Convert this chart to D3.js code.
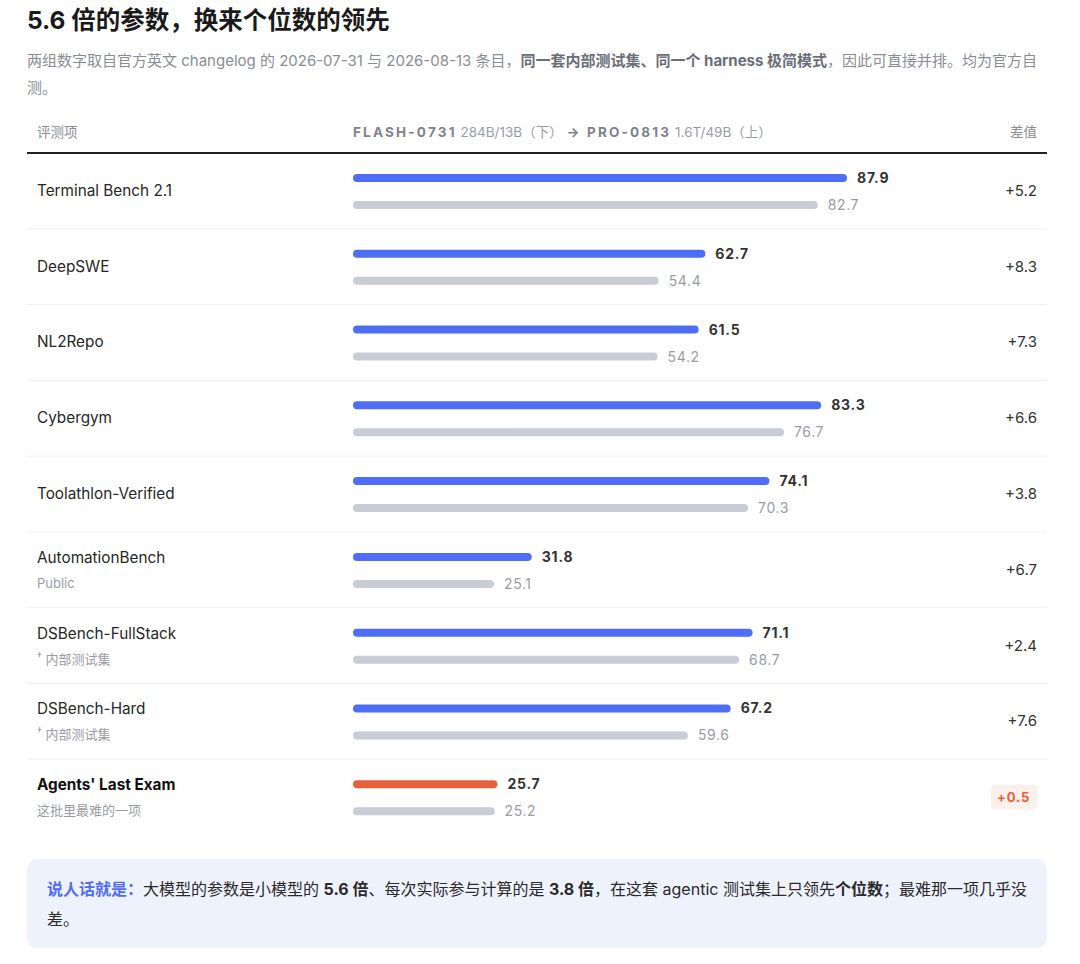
<!DOCTYPE html>
<html>
<head>
<meta charset="utf-8">
<script src="https://cdn.jsdelivr.net/npm/d3@7"></script>
<style>
  body { margin: 0; background: #fff; }
  svg text { font-family: Inter, "Noto Sans CJK SC", sans-serif; }
</style>
</head>
<body>
<svg id="chart" width="1080" height="964"></svg>
<script>
// data
var benchmarks = ["Terminal Bench 2.1", "DeepSWE", "NL2Repo", "Cybergym", "Toolathlon-Verified",
  "AutomationBench", "DSBench-FullStack", "DSBench-Hard", "Agents' Last Exam"];
var subLabels = ["", "", "", "", "", "Public", "内部测试集", "内部测试集", "这批里最难的一项"];
var internalSet = [false, false, false, false, false, false, true, true, false];
var proScores = [87.9, 62.7, 61.5, 83.3, 74.1, 31.8, 71.1, 67.2, 25.7];
var flashScores = [82.7, 54.4, 54.2, 76.7, 70.3, 25.1, 68.7, 59.6, 25.2];
var highlightRow = "Agents' Last Exam";

var svg = d3.select("#chart");
var fmtDiff = d3.format("+.1f");

// title + subtitle
svg.append("text").attr("x", 27).attr("y", 29)
  .attr("font-size", 24.5).attr("font-weight", 700).attr("fill", "#1a1a1a")
  .text("5.6 倍的参数，换来个位数的领先");

var sub = svg.append("text").attr("x", 27).attr("y", 66)
  .attr("font-size", 15).attr("fill", "#8a8d96");
sub.append("tspan").text("两组数字取自官方英文 changelog 的 2026-07-31 与 2026-08-13 条目，");
sub.append("tspan").attr("font-weight", 700).attr("fill", "#6b6e78").text("同一套内部测试集、同一个 harness 极简模式");
sub.append("tspan").text("，因此可直接并排。均为官方自");
svg.append("text").attr("x", 27).attr("y", 93)
  .attr("font-size", 15).attr("fill", "#8a8d96").text("测。");

// scales
var x = d3.scaleLinear().domain([0, 100]).range([353, 915]);
var y = d3.scaleBand().domain(benchmarks).range([153, 835]);

// header
var hy = 137;
svg.append("text").attr("x", 37).attr("y", hy).attr("font-size", 13.5)
  .attr("fill", "#8a8d96").text("评测项");
var hd = svg.append("text").attr("x", x(0)).attr("y", hy).attr("font-size", 13.5).attr("fill", "#8a8d96");
hd.append("tspan").attr("font-weight", 700).attr("letter-spacing", 2.2).attr("fill", "#80838d").text("FLASH-0731");
hd.append("tspan").attr("fill", "#9a9da6").text(" 284B/13B（下） ");
hd.append("tspan").attr("font-weight", 700).attr("letter-spacing", 2.2).attr("fill", "#80838d").text("→ PRO-0813");
hd.append("tspan").attr("fill", "#9a9da6").text(" 1.6T/49B（上）");
svg.append("text").attr("x", 1037).attr("y", hy).attr("text-anchor", "end")
  .attr("font-size", 13.5).attr("fill", "#8a8d96").text("差值");

svg.append("line").attr("x1", 27).attr("x2", 1047).attr("y1", 153).attr("y2", 153)
  .attr("stroke", "#222").attr("stroke-width", 2);

// rows
var rows = svg.selectAll("g.row").data(benchmarks).enter().append("g")
  .attr("class", "row")
  .attr("transform", function(d) { return "translate(0," + y(d) + ")"; });

rows.filter(function(d, i) { return i > 0; }).append("line")
  .attr("x1", 27).attr("x2", 1047).attr("y1", 0).attr("y2", 0)
  .attr("stroke", "#eeeff2").attr("stroke-width", 1);

var bw = y.bandwidth();
rows.append("text")
  .attr("x", 37)
  .attr("y", function(d, i) { return subLabels[i] ? bw / 2 - 7 : bw / 2 + 5; })
  .attr("font-size", 15.3)
  .attr("font-weight", function(d) { return d === highlightRow ? 700 : 400; })
  .attr("fill", function(d) { return d === highlightRow ? "#111" : "#262626"; })
  .text(function(d) { return d; });

var subT = rows.filter(function(d, i) { return subLabels[i]; }).append("text")
  .attr("x", 37).attr("y", bw / 2 + 18)
  .attr("font-size", 13).attr("fill", "#9a9ca3");
subT.each(function(d) {
  var i = benchmarks.indexOf(d), t = d3.select(this);
  if (internalSet[i]) t.append("tspan").attr("font-size", 10).attr("dy", -4).text("†");
  t.append("tspan").attr("dy", internalSet[i] ? 4 : 0).text((internalSet[i] ? " " : "") + subLabels[i]);
});

var barH = 8;
// pro bars (top)
rows.append("rect")
  .attr("x", x(0)).attr("y", 25 - barH / 2)
  .attr("width", function(d, i) { return x(proScores[i]) - x(0); })
  .attr("height", barH).attr("rx", barH / 2)
  .attr("fill", function(d) { return d === highlightRow ? "#e8613a" : "#4f6ef7"; });
rows.append("text")
  .attr("x", function(d, i) { return x(proScores[i]) + 10; }).attr("y", 25 + 5)
  .attr("font-size", 14).attr("font-weight", 700).attr("letter-spacing", 0.8)
  .attr("fill", "#333").text(function(d, i) { return proScores[i].toFixed(1); });

// flash bars (bottom)
rows.append("rect")
  .attr("x", x(0)).attr("y", 52 - barH / 2)
  .attr("width", function(d, i) { return x(flashScores[i]) - x(0); })
  .attr("height", barH).attr("rx", barH / 2)
  .attr("fill", "#c9ccd6");
rows.append("text")
  .attr("x", function(d, i) { return x(flashScores[i]) + 10; }).attr("y", 52 + 5)
  .attr("font-size", 14).attr("letter-spacing", 0.6)
  .attr("fill", "#9a9ca3").text(function(d, i) { return flashScores[i].toFixed(1); });

// diff column
rows.filter(function(d) { return d === highlightRow; }).append("rect")
  .attr("x", 991).attr("y", bw / 2 - 12).attr("width", 46).attr("height", 24)
  .attr("rx", 4).attr("fill", "#fdefe9");
rows.append("text")
  .attr("x", function(d) { return d === highlightRow ? 1030 : 1037; })
  .attr("y", bw / 2 + 5)
  .attr("text-anchor", "end")
  .attr("font-size", function(d) { return d === highlightRow ? 13 : 15; })
  .attr("font-weight", function(d) { return d === highlightRow ? 700 : 400; })
  .attr("letter-spacing", function(d) { return d === highlightRow ? 0.8 : 0; })
  .attr("fill", function(d) { return d === highlightRow ? "#e8613a" : "#333"; })
  .text(function(d, i) { return fmtDiff(proScores[i] - flashScores[i]); });

// callout
svg.append("rect").attr("x", 27).attr("y", 859).attr("width", 1020).attr("height", 89)
  .attr("rx", 10).attr("fill", "#eef2fd");
var c1 = svg.append("text").attr("x", 47).attr("y", 895).attr("font-size", 16).attr("fill", "#2a2a2a");
c1.append("tspan").attr("font-weight", 700).attr("fill", "#4f6ef7").text("说人话就是：");
c1.append("tspan").text("大模型的参数是小模型的 ");
c1.append("tspan").attr("font-weight", 700).text("5.6 倍");
c1.append("tspan").text("、每次实际参与计算的是 ");
c1.append("tspan").attr("font-weight", 700).text("3.8 倍");
c1.append("tspan").text("，在这套 agentic 测试集上只领先");
c1.append("tspan").attr("font-weight", 700).text("个位数");
c1.append("tspan").text("；最难那一项几乎没");
svg.append("text").attr("x", 47).attr("y", 925).attr("font-size", 16).attr("fill", "#2a2a2a").text("差。");
</script>
</body>
</html>
